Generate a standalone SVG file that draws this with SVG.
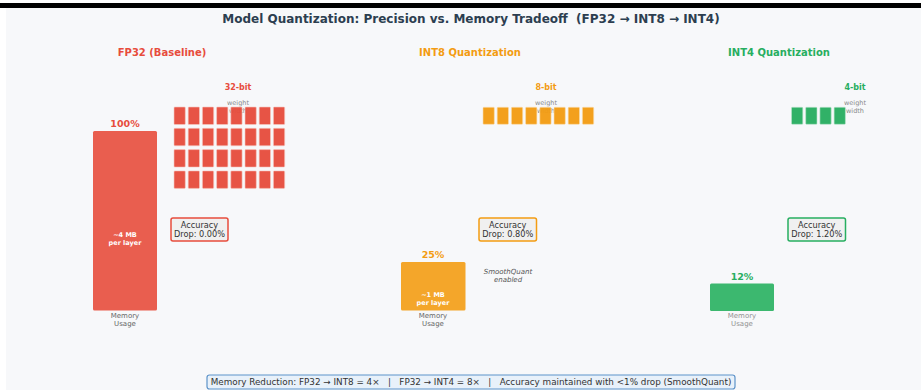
<svg xmlns="http://www.w3.org/2000/svg" width="921" height="390" viewBox="0 0 921 390">
  <style>
    text { font-family: "DejaVu Sans", "Liberation Sans", sans-serif; }
    .title { font-size: 12px; font-weight: bold; fill: #2c3e50; text-anchor: middle; white-space: pre; }
    .head { font-size: 10px; font-weight: bold; text-anchor: middle; }
    .pct { font-size: 9.5px; font-weight: bold; text-anchor: middle; }
    .bits { font-size: 8px; font-weight: bold; text-anchor: middle; }
    .ww { font-size: 6.5px; fill: #888; text-anchor: middle; }
    .mem { font-size: 7px; fill: #666; text-anchor: middle; }
    .inbar { font-size: 6.5px; font-weight: bold; fill: #fff; text-anchor: middle; }
    .acc { font-size: 8.2px; fill: #333; text-anchor: middle; }
    .note { font-size: 7px; font-style: italic; fill: #555; text-anchor: middle; }
    .accbox { fill: #f0f0f0; stroke-width: 1.5; }
    .red { fill: #e74c3c; }
    .orange { fill: #f39c12; }
    .green { fill: #27ae60; }
    .foot { font-size: 8.8px; fill: #333; text-anchor: middle; white-space: pre; }
  </style>
  <defs>
    <!-- one weight cell of the bit-width strips -->
    <rect id="cellR" width="11.3" height="17.5" rx="0.8" fill="#e74c3c" stroke="#f7c7c0" stroke-width="0.6"/>
    <rect id="cellO" width="11.3" height="17" rx="0.8" fill="#f39c12" stroke="#fbdca8" stroke-width="0.6"/>
    <rect id="cellG" width="11.3" height="17" rx="0.8" fill="#27ae60" stroke="#b8e4c9" stroke-width="0.6"/>
  </defs>

  <!-- page frame -->
  <rect x="0" y="0" width="921" height="390" fill="#ffffff"/>
  <rect x="6" y="8" width="915" height="382" fill="#f7f8fa"/>
  <rect x="0" y="3" width="921" height="5" fill="#000000"/>

  <text class="title" x="471" y="23" xml:space="preserve">Model Quantization: Precision vs. Memory Tradeoff  (FP32 → INT8 → INT4)</text>

  <!-- FP32 panel -->
  <g id="fp32">
    <text class="head red" x="162" y="56">FP32 (Baseline)</text>
    <text class="bits red" x="238" y="90">32-bit</text>
    <text class="ww" x="238" y="105">weight</text>
    <text class="ww" x="238" y="113">width</text>
    <g opacity="0.95">
      <use href="#cellR" x="174.0" y="107"/><use href="#cellR" x="188.2" y="107"/><use href="#cellR" x="202.4" y="107"/><use href="#cellR" x="216.6" y="107"/>
      <use href="#cellR" x="230.8" y="107"/><use href="#cellR" x="245.0" y="107"/><use href="#cellR" x="259.2" y="107"/><use href="#cellR" x="273.4" y="107"/>
      <use href="#cellR" x="174.0" y="128.3"/><use href="#cellR" x="188.2" y="128.3"/><use href="#cellR" x="202.4" y="128.3"/><use href="#cellR" x="216.6" y="128.3"/>
      <use href="#cellR" x="230.8" y="128.3"/><use href="#cellR" x="245.0" y="128.3"/><use href="#cellR" x="259.2" y="128.3"/><use href="#cellR" x="273.4" y="128.3"/>
      <use href="#cellR" x="174.0" y="149.6"/><use href="#cellR" x="188.2" y="149.6"/><use href="#cellR" x="202.4" y="149.6"/><use href="#cellR" x="216.6" y="149.6"/>
      <use href="#cellR" x="230.8" y="149.6"/><use href="#cellR" x="245.0" y="149.6"/><use href="#cellR" x="259.2" y="149.6"/><use href="#cellR" x="273.4" y="149.6"/>
      <use href="#cellR" x="174.0" y="170.9"/><use href="#cellR" x="188.2" y="170.9"/><use href="#cellR" x="202.4" y="170.9"/><use href="#cellR" x="216.6" y="170.9"/>
      <use href="#cellR" x="230.8" y="170.9"/><use href="#cellR" x="245.0" y="170.9"/><use href="#cellR" x="259.2" y="170.9"/><use href="#cellR" x="273.4" y="170.9"/>
    </g>
    <text class="pct red" x="125" y="127">100%</text>
    <rect x="93" y="131" width="64" height="179.5" rx="1.5" fill="#e95e4f"/>
    <text class="inbar" x="125" y="237">~4 MB</text>
    <text class="inbar" x="125" y="245">per layer</text>
    <text class="mem" x="125" y="318">Memory</text>
    <text class="mem" x="125" y="326">Usage</text>
    <rect class="accbox" x="171" y="218" width="57" height="23" rx="2" stroke="#e74c3c"/>
    <text class="acc" x="199.5" y="228">Accuracy</text>
    <text class="acc" x="199.5" y="237">Drop: 0.00%</text>
  </g>

  <!-- INT8 panel -->
  <g id="int8">
    <text class="head orange" x="470" y="56">INT8 Quantization</text>
    <text class="bits orange" x="546" y="90">8-bit</text>
    <text class="ww" x="546" y="105">weight</text>
    <text class="ww" x="546" y="113">width</text>
    <g opacity="0.95">
      <use href="#cellO" x="483.0" y="107.3"/><use href="#cellO" x="497.2" y="107.3"/><use href="#cellO" x="511.4" y="107.3"/><use href="#cellO" x="525.6" y="107.3"/>
      <use href="#cellO" x="539.8" y="107.3"/><use href="#cellO" x="554.0" y="107.3"/><use href="#cellO" x="568.2" y="107.3"/><use href="#cellO" x="582.4" y="107.3"/>
    </g>
    <rect class="accbox" x="479" y="218" width="57.5" height="23" rx="2" stroke="#f39c12"/>
    <text class="acc" x="507.7" y="228">Accuracy</text>
    <text class="acc" x="507.7" y="237">Drop: 0.80%</text>
    <text class="pct orange" x="433" y="258">25%</text>
    <rect x="401" y="262" width="64.5" height="48.5" rx="1.5" fill="#f4a62a"/>
    <text class="inbar" x="433" y="297">~1 MB</text>
    <text class="inbar" x="433" y="305">per layer</text>
    <text class="mem" x="433" y="318">Memory</text>
    <text class="mem" x="433" y="326">Usage</text>
    <text class="note" x="508" y="274">SmoothQuant</text>
    <text class="note" x="508" y="282">enabled</text>
  </g>

  <!-- INT4 panel -->
  <g id="int4">
    <text class="head green" x="779" y="56">INT4 Quantization</text>
    <text class="bits green" x="855" y="90">4-bit</text>
    <text class="ww" x="855" y="105">weight</text>
    <text class="ww" x="855" y="113">width</text>
    <g opacity="0.95">
      <use href="#cellG" x="791.5" y="107.3"/><use href="#cellG" x="805.7" y="107.3"/><use href="#cellG" x="819.9" y="107.3"/><use href="#cellG" x="834.1" y="107.3"/>
    </g>
    <rect class="accbox" x="788" y="218" width="57.5" height="23" rx="2" stroke="#27ae60"/>
    <text class="acc" x="816.7" y="228">Accuracy</text>
    <text class="acc" x="816.7" y="237">Drop: 1.20%</text>
    <text class="pct green" x="742" y="280">12%</text>
    <rect x="710" y="283.5" width="64" height="27.5" rx="1.5" fill="#3cb86f"/>
    <text class="mem" x="742" y="318" fill="#999" opacity="0.7">Memory</text>
    <text class="mem" x="742" y="326" fill="#999" opacity="0.7">Usage</text>
  </g>

  <!-- summary footer -->
  <g id="summary">
    <rect x="207" y="375" width="528" height="14" rx="2.5" fill="#e8f1fa" stroke="#5d93c9" stroke-width="1.2"/>
    <text class="foot" x="471" y="385.3" xml:space="preserve">Memory Reduction: FP32 → INT8 = 4×   |   FP32 → INT4 = 8×   |   Accuracy maintained with &lt;1% drop (SmoothQuant)</text>
  </g>
</svg>
